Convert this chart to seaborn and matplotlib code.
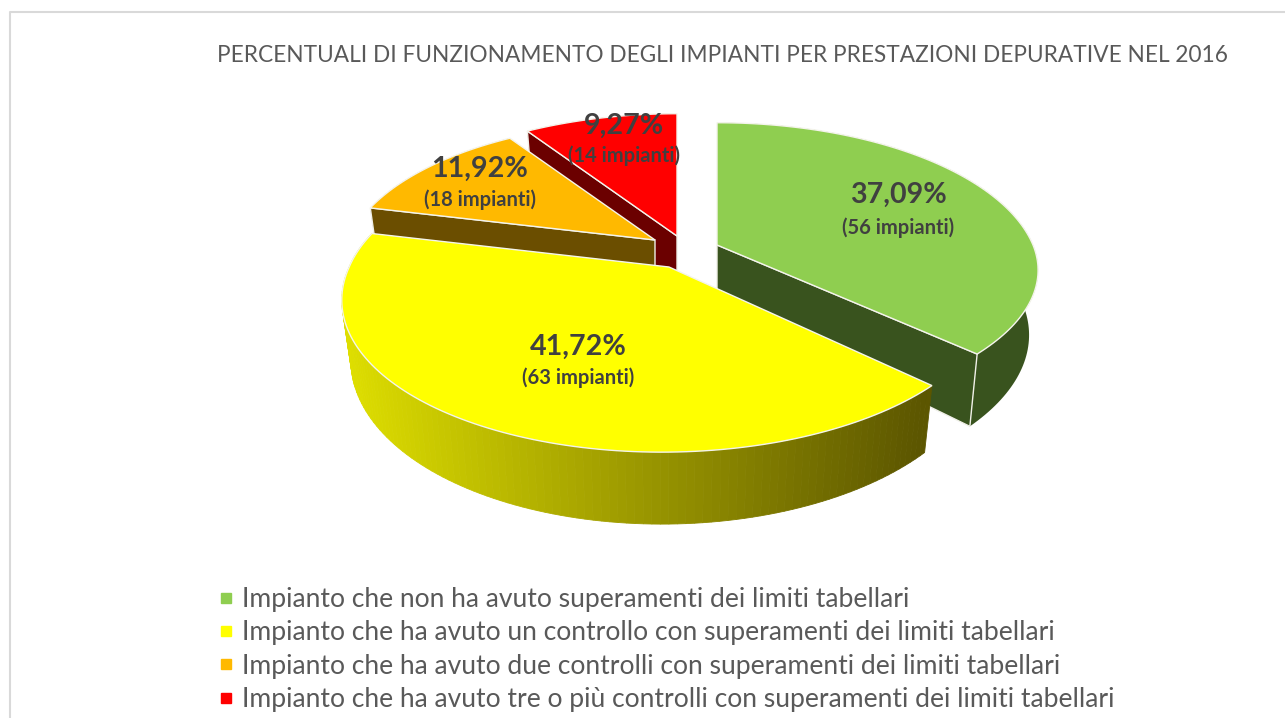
import numpy as np
import seaborn as sns
import matplotlib.pyplot as plt
from matplotlib.lines import Line2D

# Data
categories = [
    'Impianto che non ha avuto superamenti dei limiti tabellari',
    'Impianto che ha avuto un controllo con superamenti dei limiti tabellari',
    'Impianto che ha avuto due controlli con superamenti dei limiti tabellari',
    'Impianto che ha avuto tre o più controlli con superamenti dei limiti tabellari',
]
percent_labels = ['37,09%', '41,72%', '11,92%', '9,27%']
count_labels = ['(56 impianti)', '(63 impianti)', '(18 impianti)', '(14 impianti)']
impianti = [56, 63, 18, 14]
title = 'PERCENTUALI DI FUNZIONAMENTO DEGLI IMPIANTI PER PRESTAZIONI DEPURATIVE NEL 2016'

# Colours
top_colors = ['#8FCE50', '#FFFF00', '#FFB900', '#FF0000']
wall_colors = ['#39531E', '#6B6B00', '#6B4E00', '#6B0000']
text_color = '#404040'

sns.set_theme(style='white')
plt.rcParams['font.family'] = ['Lato', 'DejaVu Sans']

fig, ax = plt.subplots(figsize=(12.85, 7.18), dpi=100)
fig.subplots_adjust(0, 0, 1, 1)
ax.set_xlim(0, 1285)
ax.set_ylim(718, 0)
ax.axis('off')

# Perspective look of the pie
A, B, K, DEPTH = 316, 146, 0.194, 58
SHEAR, TAPER = 0.04, 0.028
apex = [(717, 245), (669, 267), (655, 240), (677, 236)]
radius = [1.0, 1.012, 0.97, 1.0]
front = [0.94, 1.01, 1.0, 1.0]
depth_scale = [1.08, 1.0, 1.0, 1.0]
side_wall = [1, None, 0, 0]  # which cut face of each slice can be seen


def project(i, theta, drop=0.0):
    cx, cy = apex[i]
    u, v = np.sin(theta), np.cos(theta)
    w = 1 + K * v
    dy = -radius[i] * B * v / w * np.where(v < 0, front[i], 1.0)
    dx = radius[i] * A * u / w - SHEAR * np.maximum(dy, 0)
    return cx + dx * (1 - TAPER * drop), cy + dy + drop * DEPTH * depth_scale[i] / w


# Slice angles come from the counts, clockwise from 12 o'clock
edges = np.concatenate([[0], np.cumsum(impianti)]) / sum(impianti) * 2 * np.pi


def rim(i, drop=0.0):
    t = np.linspace(edges[i], edges[i + 1], 120)
    return t, *project(i, t, drop)


def draw_walls(i):
    t, xt, yt = rim(i)
    _, xb, yb = rim(i, 1)
    cx, cy = apex[i]
    if i == 1:
        # yellow side has a shaded band going dark to the right
        for k in range(len(t) - 1):
            f = np.clip((xt[k] - 345) / (925 - 345), 0, 1)
            col = (np.array([222, 222, 0]) * (1 - f) + np.array([92, 86, 0]) * f) / 255
            ax.fill([xt[k], xt[k + 1], xb[k + 1], xb[k]], [yt[k], yt[k + 1], yb[k + 1], yb[k]],
                    color=col, lw=0.6)
    else:
        ax.fill(np.r_[xt, xb[::-1]], np.r_[yt, yb[::-1]], color=wall_colors[i], lw=0)
    if side_wall[i] is not None:
        th = edges[i + side_wall[i]]
        x0, y0 = project(i, th)
        x1, y1 = project(i, th, 1)
        ax.fill([cx, x0, x1, cx], [cy, y0, y1, cy + DEPTH], fc=wall_colors[i], ec='#f0f0e8', lw=1)


def draw_top(i):
    _, xt, yt = rim(i)
    ax.fill(np.r_[apex[i][0], xt], np.r_[apex[i][1], yt], fc=top_colors[i], ec='#f4f4ec', lw=1)


for i in [0, 3, 2, 1]:
    draw_walls(i)
    draw_top(i)

# Data labels
pct_pos = [(898, 195), (578, 347), (480, 169), (624, 126)]
cnt_pos = [(898, 228), (578, 378), (480, 200), (624, 156)]
for i in range(4):
    ax.text(*pct_pos[i], percent_labels[i], ha='center', va='center', fontsize=20.6,
            fontweight='bold', color=text_color)
    ax.text(*cnt_pos[i], count_labels[i], ha='center', va='center', fontsize=14.5,
            fontweight='bold', color=text_color)

# Title and frame
ax.text(722, 56, title, ha='center', va='center', fontsize=16.3, color='#595959')
ax.plot([10, 10, 1285], [718, 12, 12], color='#d9d9d9', lw=1.5)

# Legend
handles = [Line2D([], [], ls='', marker='s', ms=7.5, color=c) for c in top_colors]
ax.legend(handles, categories, loc='upper left', bbox_to_anchor=(215.5 / 1285, 1 - 587 / 718),
          frameon=False, fontsize=19.1, labelcolor='#595959', labelspacing=0.315,
          handletextpad=0.2, handlelength=0.8, borderpad=0, borderaxespad=0)

fig.savefig('out.png', dpi=100)
